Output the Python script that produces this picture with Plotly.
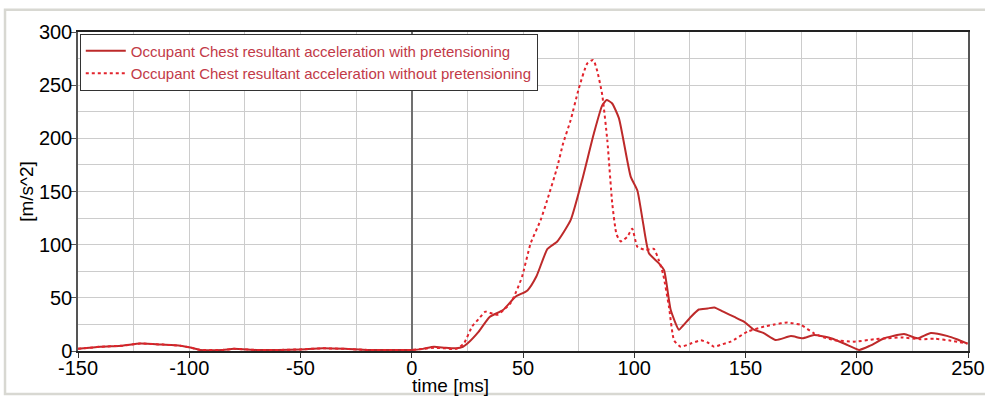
import plotly.graph_objects as go

# ---- data ----
time_with = [-150, -140, -130, -122, -112, -104, -99, -95, -85, -80, -70, -60, -50, -40, -30, -20, -10, 0,
             5, 10, 15, 20, 23, 25, 30, 35, 41, 46.6, 52, 56, 61, 65.4, 71.4, 76.6, 81.9, 85.6, 87.6, 90,
             93.1, 98.4, 101.4, 104, 106.6, 111.1, 113.4, 116.4, 120.1, 122, 125.4, 129, 133, 136, 140,
             145, 149.3, 153.8, 158, 163.6, 170.4, 175.6, 180.8, 188.4, 195.9, 201.1, 206, 212.3, 216,
             221.3, 227.3, 233.3, 240.9, 245, 249.8]
accel_with = [2, 4, 5, 7, 6, 5, 3, 1, 1, 2, 1, 1, 1.5, 2.5, 2, 1, 1, 1,
              2, 4, 3, 2.5, 4, 7, 18, 32, 38.5, 51, 57, 70, 96, 103, 123, 161, 205, 231, 236, 233,
              219, 164, 151, 120, 92, 82.5, 76, 38.5, 20, 24, 32, 39, 40, 41, 37,
              32, 27.6, 20, 17, 10.3, 14, 12, 15, 12, 5.6, 1, 5, 12, 14,
              16, 12, 17, 14, 11, 7]

time_without = [-150, -140, -130, -122, -112, -104, -99, -95, -85, -80, -70, -60, -50, -40, -30, -20, -10, 0,
                5, 10, 15, 20, 23.4, 27.1, 30, 33.1, 35, 38.4, 41, 44.4, 47, 49.6, 53.4, 57.9, 60.9, 65.4,
                68, 71.4, 75.1, 78.9, 81.6, 83.4, 85.6, 87.9, 90.1, 92, 93.9, 96.9, 99.1, 101.4, 105.1,
                108.8, 111.1, 113, 115.6, 117.9, 120.9, 125.4, 129.9, 133, 135.9, 139, 143.4, 150.9,
                158.4, 163, 168.9, 174.9, 180.8, 185, 189.8, 198.8, 207.8, 214, 219.9, 228.9, 234.8,
                242.4, 249.8]
accel_without = [2, 4, 5, 7, 6, 5, 3, 1, 1, 2, 1, 1, 1.5, 2.5, 2, 1, 1, 1,
                 2, 3, 2.5, 2, 7, 23, 30, 37, 36, 34, 38, 45, 56, 70, 101, 123, 142, 173,
                 195, 217, 247, 270.5, 273.7, 263, 241, 198, 139, 110, 103, 107.5, 115, 98, 95,
                 96, 85, 72, 41.7, 10, 4, 7, 10, 8, 4, 6, 8.8, 18.2,
                 23, 25, 26.7, 24.5, 16.6, 13, 10.3, 8.8, 11, 12, 12.8, 11, 11.6,
                 9.7, 7]

name_with = "Occupant Chest resultant acceleration with pretensioning"
name_without = "Occupant Chest resultant acceleration without pretensioning"

x_ticks = [-150, -100, -50, 0, 50, 100, 150, 200, 250]
y_ticks = [0, 50, 100, 150, 200, 250, 300]

FONT = "Liberation Sans, Arial, sans-serif"

fig = go.Figure()
fig.add_trace(go.Scatter(
    x=time_with, y=accel_with, mode="lines", name=name_with,
    line=dict(color="#bd2a2a", width=2, shape="spline", smoothing=0.5),
))
fig.add_trace(go.Scatter(
    x=time_without, y=accel_without, mode="lines", name=name_without,
    line=dict(color="#e2232c", width=2, dash="dot", shape="spline", smoothing=0.5),
))

fig.update_layout(
    width=985, height=404,
    margin=dict(l=78, r=17, t=32, b=53),
    paper_bgcolor="white", plot_bgcolor="white",
    font=dict(family=FONT, size=20, color="black"),
    showlegend=True,
    legend=dict(
        x=0.002, y=0.995, xanchor="left", yanchor="top",
        bgcolor="white", bordercolor="#333333", borderwidth=1,
        font=dict(family=FONT, size=15, color="#c23a48"),
        tracegroupgap=0, itemwidth=40,
    ),
    xaxis=dict(
        range=[-150, 250], tickvals=x_ticks, ticktext=[str(v) for v in x_ticks],
        automargin=False,
        showgrid=True, gridcolor="#cccccc", gridwidth=1,
        minor=dict(dtick=25, tick0=0, showgrid=True, gridcolor="#cccccc", ticks=""),
        zeroline=True, zerolinecolor="#707070", zerolinewidth=1.5,
        showline=True, linecolor="#222222", linewidth=1.5, mirror=True,
        ticks="outside", ticklen=5, tickcolor="#333333",
        ticklabelstandoff=-7,
        tickfont=dict(size=20),
    ),
    yaxis=dict(
        range=[0, 300], tickvals=y_ticks, ticktext=[str(v) for v in y_ticks],
        automargin=False,
        showgrid=True, gridcolor="#cccccc", gridwidth=1,
        minor=dict(dtick=25, tick0=0, showgrid=True, gridcolor="#cccccc", ticks=""),
        zeroline=False,
        showline=True, linecolor="#555555", linewidth=1.5, mirror=True,
        ticks="outside", ticklen=5, tickcolor="#555555",
        ticklabelstandoff=-5,
        tickfont=dict(size=20),
        title=dict(text="[m/s^2]", font=dict(size=19), standoff=0),
    ),
    annotations=[dict(
        text="time [ms]", x=17.5, y=-0.107, xref="x", yref="paper",
        xanchor="center", yanchor="middle", showarrow=False,
        font=dict(family=FONT, size=19, color="black"),
    )],
    shapes=[dict(
        type="rect", xref="paper", yref="paper",
        x0=-0.082, x1=1.03, y0=-0.135, y1=1.07,
        line=dict(color="#d8d8d2", width=2.5), layer="below",
    )],
)

fig.write_html(
    "out.html",
    config={"displayModeBar": False},
    post_script="document.body.style.margin='0';document.body.style.overflow='hidden';",
)
